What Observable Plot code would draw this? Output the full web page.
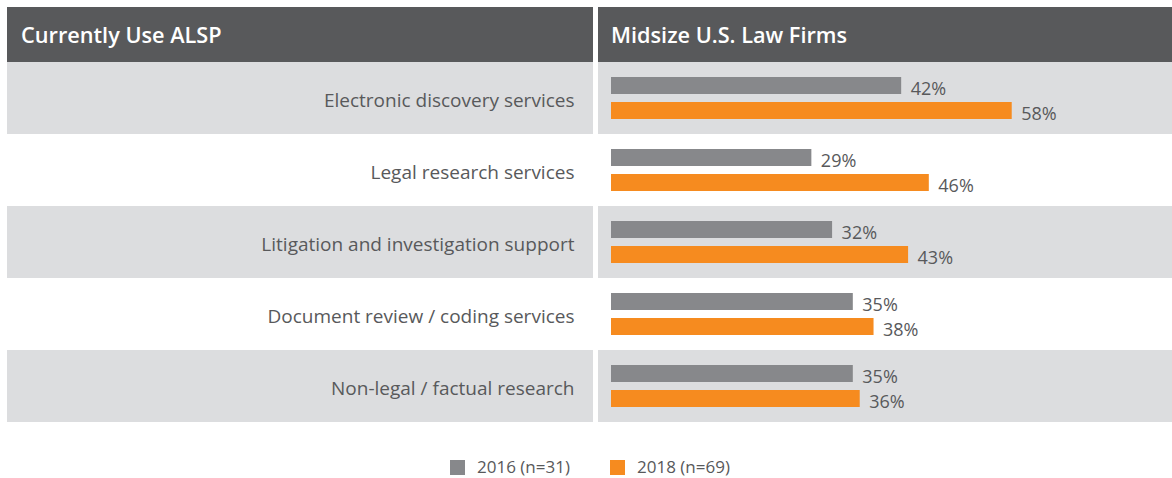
<!DOCTYPE html>
<html>
<head>
<meta charset="utf-8">
<script src="https://cdn.jsdelivr.net/npm/d3@7"></script>
<script src="https://cdn.jsdelivr.net/npm/@observablehq/plot@0.6"></script>
<style>
  html, body { margin: 0; padding: 0; background: #fff; }
  #wrap { position: relative; width: 1172px; height: 478px; font-family: "Open Sans", "Noto Sans", sans-serif; color: #58595b; overflow: hidden; }
  .hdr { position: absolute; top: 7px; height: 55px; background: #58595b; color: #fff; font-weight: 600; font-size: 21.7px; line-height: 55px; box-sizing: border-box; }
  #plot { position: absolute; left: 0; top: 62px; }
  .item { position: absolute; top: 458px; display: flex; align-items: center; font-size: 17px; line-height: 18px; }
  .sw { width: 15px; height: 15px; display: inline-block; margin-right: 12px; }
</style>
</head>
<body>
<div id="wrap">
  <div class="hdr" id="hdrL" style="left:7px;width:586px;padding-left:14px;"></div>
  <div class="hdr" id="hdrR" style="left:598px;width:574px;padding-left:13px;"></div>
  <div id="plot"></div>
</div>
<script>
const headerLeft = "Currently Use ALSP";
const headerRight = "Midsize U.S. Law Firms";
const categories = [
  "Electronic discovery services",
  "Legal research services",
  "Litigation and investigation support",
  "Document review / coding services",
  "Non-legal / factual research"
];
const years = ["2016 (n=31)", "2018 (n=69)"];
const values2016 = [42, 29, 32, 35, 35];
const values2018 = [58, 46, 43, 38, 36];
const colors = ["#87888b", "#f68b1f"];

const table = [];
categories.forEach((c, i) => {
  table.push({category: c, year: years[0], value: values2016[i]});
  table.push({category: c, year: years[1], value: values2018[i]});
});
const shadedRows = categories.filter((c, i) => i % 2 === 0);
const xMax = 81.2;

document.getElementById("hdrL").textContent = headerLeft;
document.getElementById("hdrR").textContent = headerRight;

const chart = Plot.plot({
  width: 1172,
  height: 360,
  marginLeft: 611,
  marginRight: 0,
  marginTop: 0,
  marginBottom: 0,
  style: {fontFamily: "'Open Sans', 'Noto Sans', sans-serif", background: "transparent", overflow: "visible"},
  x: {domain: [0, xMax], axis: null},
  y: {domain: years, axis: null, paddingInner: 0.3077, paddingOuter: 0.5385},
  fy: {domain: categories, axis: null, padding: 0},
  color: {domain: years, range: colors},
  marks: [
    // shaded row backgrounds, right panel
    Plot.barX(shadedRows, {fy: d => d, x1: 0, x2: xMax, insetLeft: -13, fill: "#dcdddf"}),
    // shaded row backgrounds, left panel
    Plot.barX(shadedRows, {fy: d => d, x1: 0, x2: 0, insetLeft: -604, insetRight: 18, fill: "#dcdddf"}),
    Plot.text(categories, {fy: d => d, text: d => d, frameAnchor: "left", textAnchor: "end", dx: -37, dy: 2.5, fontSize: 19, fill: "#58595b"}),
    Plot.barX(table, {fy: "category", y: "year", x: "value", fill: "year"}),
    Plot.text(table, {fy: "category", y: "year", x: "value", text: d => d.value + "%", dx: 9, dy: 3, textAnchor: "start", fontSize: 18, fill: "#58595b"})
  ]
});
document.getElementById("plot").appendChild(chart);

const legendLeft = [450, 610];
years.forEach((y, i) => {
  const it = d3.select("#wrap").append("div").attr("class", "item").style("left", legendLeft[i] + "px");
  it.append("span").attr("class", "sw").style("background", colors[i]);
  it.append("span").text(y);
});
</script>
</body>
</html>
